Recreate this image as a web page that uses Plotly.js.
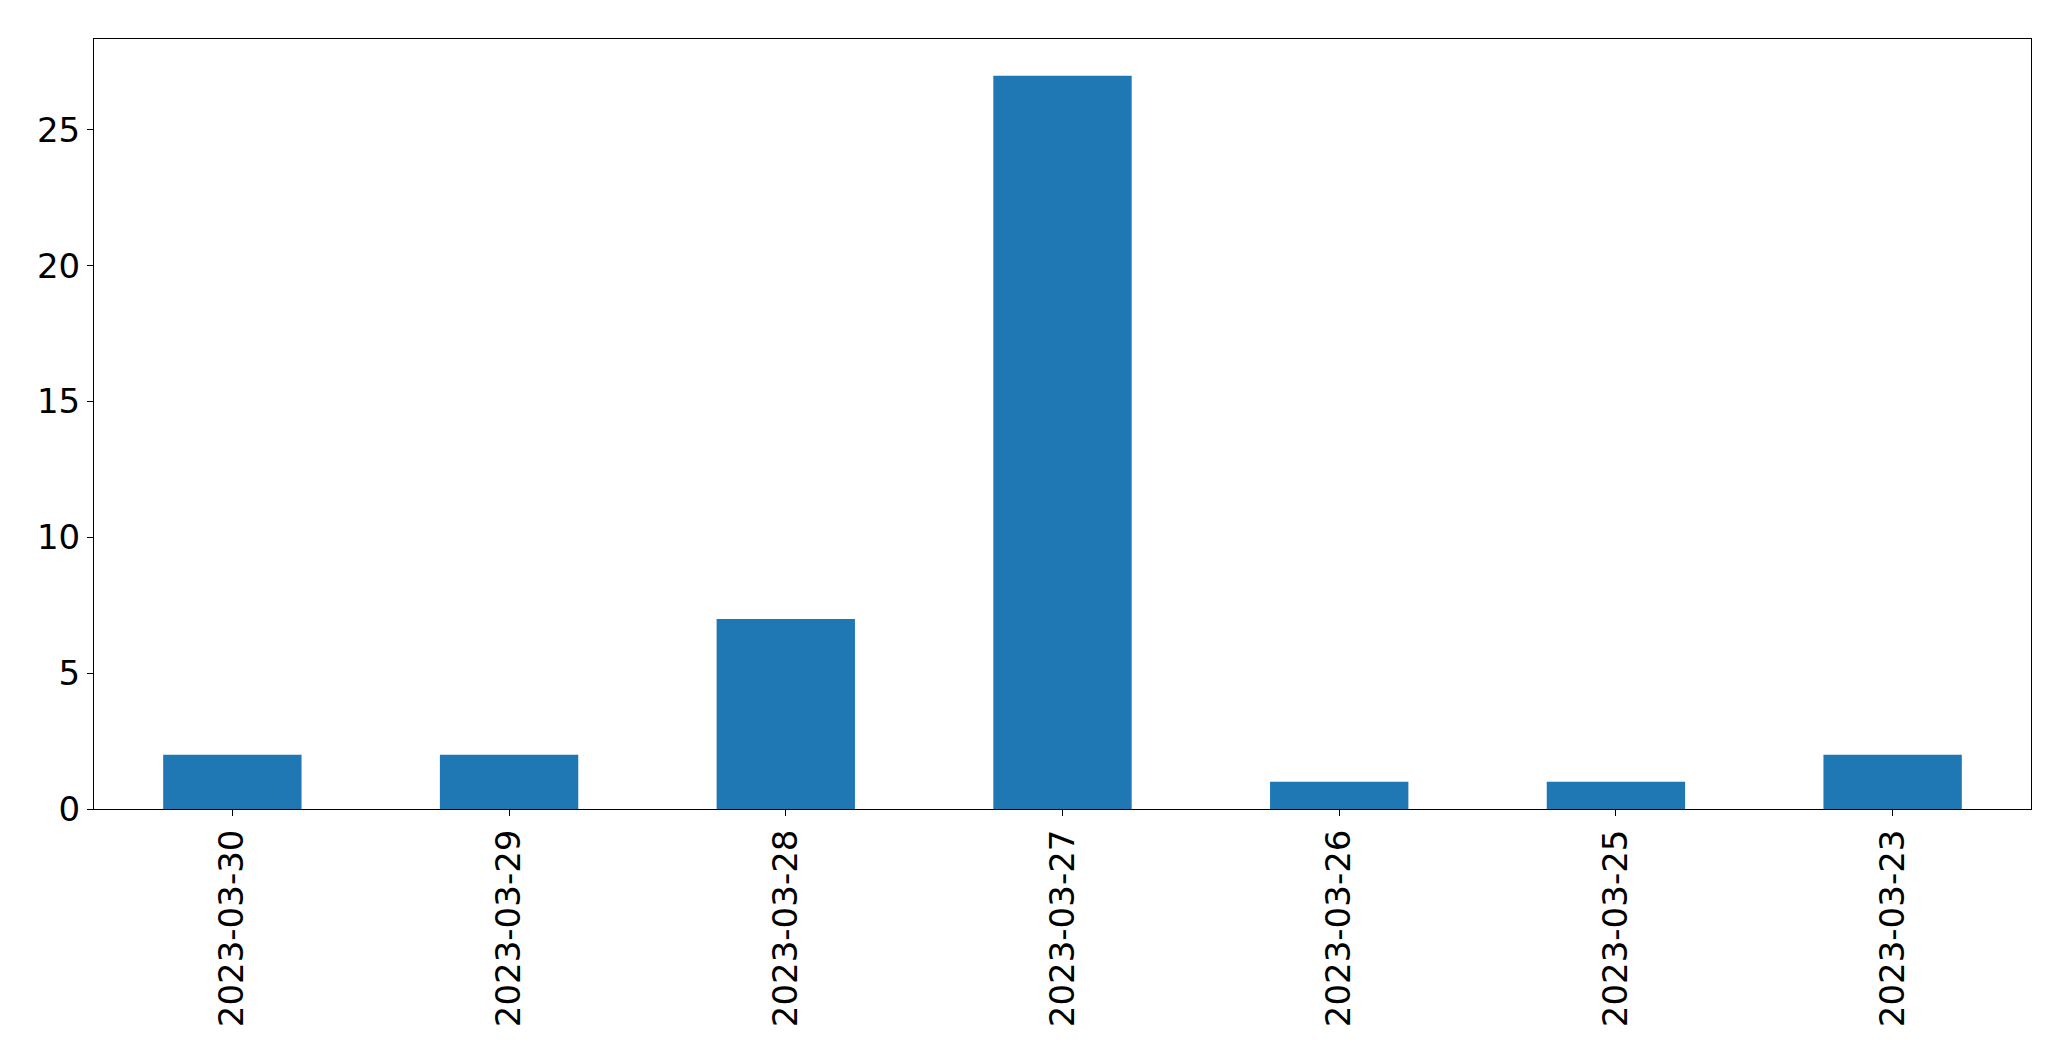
<!DOCTYPE html>
<html>
<head>
<meta charset="utf-8">
<script src="https://cdn.plot.ly/plotly-3.0.1.min.js"></script>
<style>html,body{margin:0;padding:0;background:#fff;}#chart{width:2071px;height:1061px;}</style>
</head>
<body>
<div id="chart"></div>
<script>
const dates = ["2023-03-30", "2023-03-29", "2023-03-28", "2023-03-27", "2023-03-26", "2023-03-25", "2023-03-23"];
const counts = [2, 2, 7, 27, 1, 1, 2];
const yTicks = [0, 5, 10, 15, 20, 25];

const font = {family: "DejaVu Sans", size: 34, color: "#000"};

Plotly.newPlot("chart", [{
  type: "bar",
  x: dates,
  y: counts,
  width: 0.5,
  marker: {color: "#1f77b4", line: {width: 0}},
  hoverinfo: "x+y"
}], {
  width: 2071,
  height: 1061,
  margin: {l: 94, r: 40, t: 39, b: 252, pad: 0},
  paper_bgcolor: "#fff",
  plot_bgcolor: "#fff",
  showlegend: false,
  font: font,
  xaxis: {
    type: "category",
    range: [-0.5, 6.5],
    tickangle: -90,
    ticks: "outside",
    ticklen: 6,
    tickwidth: 1,
    tickcolor: "#000",
    showline: true,
    linecolor: "#000",
    linewidth: 1,
    mirror: true,
    showgrid: false,
    zeroline: false,
    tickfont: font
  },
  yaxis: {
    range: [0, 28.35],
    tickvals: yTicks,
    ticktext: yTicks.map(String),
    ticks: "outside",
    ticklen: 6,
    tickwidth: 1,
    tickcolor: "#000",
    showline: true,
    linecolor: "#000",
    linewidth: 1,
    mirror: true,
    showgrid: false,
    zeroline: false,
    tickfont: font
  }
}, {displayModeBar: false, staticPlot: true});
</script>
</body>
</html>
